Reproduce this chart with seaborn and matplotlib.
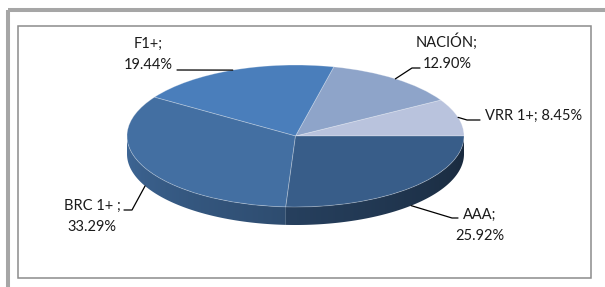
import numpy as np
import matplotlib
matplotlib.use("Agg")
import matplotlib.pyplot as plt
import matplotlib.transforms as mtransforms
from matplotlib.patches import Rectangle, Polygon
import seaborn as sns

# data (slices in drawing order, counter-clockwise from 3 o'clock)
labels = ["VRR 1+", "NACIÓN", "F1+", "BRC 1+ ", "AAA"]
shares = [8.45, 12.90, 19.44, 33.29, 25.92]
colors = ["#B9C3DD", "#8EA4C9", "#4A7EBB", "#436FA2", "#385D89"]

sns.set_style("white")
plt.rcParams["font.family"] = ["Lato", "DejaVu Sans"]

W, H = 605, 287
fig = plt.figure(figsize=(W / 100, H / 100), dpi=100)
ax = fig.add_axes([0, 0, 1, 1])

# pixel (from top-left) -> display
PX = mtransforms.Affine2D().scale(1 / 100, -1 / 100).translate(0, H / 100) + fig.dpi_scale_trans

# ellipse geometry in pixels
cx, cy, rx, ry, depth = 295.5, 136.0, 168.5, 71.0, 18.0
d = depth / ry

wedges, _ = ax.pie(shares, colors=colors, startangle=0, counterclock=True,
                   wedgeprops=dict(edgecolor=(1, 1, 1, 0.3), linewidth=0.6))
for w in wedges:
    w.set_zorder(3)
ax.set_aspect("auto")
ax.set_xlim(-cx / rx, (W - cx) / rx)
ax.set_ylim(-(H - cy) / ry, cy / ry)
ax.axis("off")

# side wall of the front half, shaded from left (light) to right (dark)
bounds = np.concatenate([[0], np.cumsum(shares)]) / 100 * 360
xg = np.linspace(-1, 1, 400)
tg = 180 + np.degrees(np.arccos(-xg))
shade = 0.93 - 0.5 * (tg - 180) / 180
for i, col in enumerate(colors):
    a, b = max(bounds[i], 180), min(bounds[i + 1], 360)
    if a >= b:
        continue
    ts = np.radians(np.linspace(a, b, 200))
    top = np.column_stack([np.cos(ts), np.sin(ts)])
    bot = np.column_stack([np.cos(ts[::-1]), np.sin(ts[::-1]) - d])
    poly = Polygon(np.vstack([top, bot]), closed=True, fc="none", ec="none")
    ax.add_patch(poly)
    base = np.array(matplotlib.colors.to_rgb(col))
    img = np.clip(shade[None, :, None] * base[None, None, :], 0, 1)
    im = ax.imshow(img, extent=(-1, 1, -1 - d, 0), aspect="auto", zorder=2,
                   interpolation="bilinear")
    im.set_clip_path(poly)
ax.set_xlim(-cx / rx, (W - cx) / rx)
ax.set_ylim(-(H - cy) / ry, cy / ry)

# labels with leader lines (anchor from slice mid-angle)
label_pos = {
    "VRR 1+": dict(elbow=(467, 120), end=(480, 120), text=(485, 116), ha="left"),
    "NACIÓN": dict(elbow=(412, 68), end=(420, 68), text=(447, 52), ha="center"),
    "F1+": dict(elbow=(177, 70), end=(177, 70), text=(148, 54), ha="center"),
    "BRC 1+ ": dict(elbow=(132, 210), end=(124, 210), text=(92, 216), ha="center"),
    "AAA": dict(elbow=(452, 218), end=(458, 218), text=(480, 225), ha="center"),
}
to_px = ax.transData + PX.inverted()
for i, (lab, val) in enumerate(zip(labels, shares)):
    mid = np.radians((bounds[i] + bounds[i + 1]) / 2)
    yv = np.sin(mid) - (d if np.sin(mid) < 0 else 0)
    anchor = to_px.transform((np.cos(mid), yv))
    p = label_pos[lab]
    xs = [anchor[0], p["elbow"][0], p["end"][0]]
    ys = [anchor[1], p["elbow"][1], p["end"][1]]
    ax.plot(xs, ys, color="black", lw=0.9, transform=PX, zorder=4, clip_on=False)
    if lab == "VRR 1+":
        txt = f"{lab}; {val:.2f}%"
    else:
        txt = f"{lab};\n{val:.2f}%"
    ax.text(p["text"][0], p["text"][1], txt, transform=PX, ha=p["ha"], va="center",
            multialignment="center", fontsize=10.5, color="#1a1a1a", linespacing=1.65,
            zorder=5)

# frames
fig.patches.append(Rectangle((8, 10), 640, 320, transform=PX,
                             fill=False, ec="#A6A6A6", lw=2.9))
fig.patches.append(Rectangle((17.5, 25.5), 573, 252.5, transform=PX,
                             fill=False, ec="#8C8C8C", lw=1.1))

fig.savefig("out.png", dpi=100)
